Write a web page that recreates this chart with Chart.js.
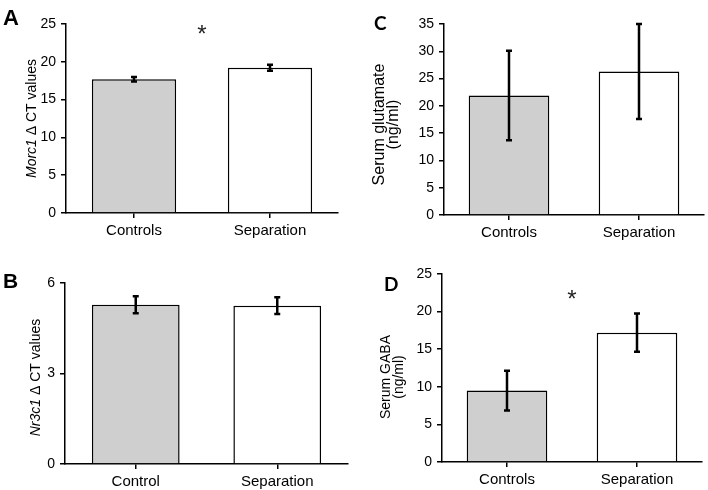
<!DOCTYPE html>
<html>
<head>
<meta charset="utf-8">
<script src="https://cdn.jsdelivr.net/npm/chart.js@4/dist/chart.umd.min.js"></script>
<style>
  body { margin: 0; background: #fff; width: 708px; height: 490px; position: relative; overflow: hidden; }
  canvas { position: absolute; }
  .lbl { position: absolute; line-height: 1; font-weight: bold; color: #000; }
</style>
</head>
<body>
<canvas id="chartA" width="354" height="245" style="left:0;top:0"></canvas>
<canvas id="chartC" width="354" height="245" style="left:354px;top:0"></canvas>
<canvas id="chartB" width="354" height="245" style="left:0;top:245px"></canvas>
<canvas id="chartD" width="354" height="245" style="left:354px;top:245px"></canvas>
<div class="lbl" style="left:3px;top:5px;font:bold 22px 'Liberation Sans'">A</div>
<div class="lbl" style="left:3px;top:269px;font:bold 21px 'Liberation Sans'">B</div>
<div class="lbl" style="left:374px;top:11px;font:bold 19px Lato">C</div>
<div class="lbl" style="left:384px;top:272px;font:bold 19px Lato">D</div>
<script>
// Datos de cada panel
const categoriesA = ["Controls", "Separation"];
const morc1Means = [17.7, 19.2];
const morc1Errors = [0.3, 0.4];
const ticksA = [0, 5, 10, 15, 20, 25];

const categoriesB = ["Control", "Separation"];
const nr3c1Means = [5.28, 5.25];
const nr3c1Errors = [0.28, 0.28];
const ticksB = [0, 3, 6];

const categoriesC = ["Controls", "Separation"];
const glutamateMeans = [21.9, 26.3];
const glutamateErrors = [8.2, 8.7];
const ticksC = [0, 5, 10, 15, 20, 25, 30, 35];

const categoriesD = ["Controls", "Separation"];
const gabaMeans = [9.5, 17.2];
const gabaErrors = [2.65, 2.55];
const ticksD = [0, 5, 10, 15, 20, 25];

const FONT = "'Liberation Sans', Arial, sans-serif";

// Barras de error
const errorBarsPlugin = {
  id: "errorBars",
  afterDatasetsDraw(chart, args, opts) {
    const { ctx } = chart;
    const y = chart.scales.y;
    const meta = chart.getDatasetMeta(0);
    const values = chart.data.datasets[0].data;
    ctx.save();
    ctx.strokeStyle = "#000";
    ctx.lineWidth = 2.5;
    meta.data.forEach((bar, i) => {
      const top = y.getPixelForValue(values[i] + opts.errors[i]);
      const bottom = y.getPixelForValue(values[i] - opts.errors[i]);
      ctx.beginPath();
      ctx.moveTo(bar.x, top); ctx.lineTo(bar.x, bottom);
      ctx.moveTo(bar.x - 3, top); ctx.lineTo(bar.x + 3, top);
      ctx.moveTo(bar.x - 3, bottom); ctx.lineTo(bar.x + 3, bottom);
      ctx.stroke();
    });
    ctx.restore();
  }
};

// Asterisco de significancia
const starPlugin = {
  id: "star",
  afterDatasetsDraw(chart, args, opts) {
    if (opts.value == null) return;
    const { ctx } = chart;
    const meta = chart.getDatasetMeta(0);
    const x = (meta.data[0].x + meta.data[1].x) / 2;
    const yc = chart.scales.y.getPixelForValue(opts.value);
    ctx.save();
    ctx.fillStyle = "#222";
    ctx.font = "24px " + FONT;
    ctx.textAlign = "center";
    ctx.textBaseline = "alphabetic";
    ctx.fillText("*", x, yc + 0.58 * 24);
    ctx.restore();
  }
};

// Título del eje Y con partes en cursiva
const yTitlePlugin = {
  id: "yTitle",
  afterDraw(chart, args, opts) {
    const { ctx, chartArea } = chart;
    const cy = (chartArea.top + chartArea.bottom) / 2 + (opts.dy || 0);
    const size = opts.size || 14;
    ctx.save();
    ctx.fillStyle = "#000";
    ctx.textBaseline = "middle";
    ctx.textAlign = "left";
    opts.lines.forEach((segments, li) => {
      let total = 0;
      segments.forEach(s => {
        ctx.font = (s.italic ? "italic " : "") + size + "px " + FONT;
        total += ctx.measureText(s.text).width;
      });
      ctx.save();
      ctx.translate(opts.x[li], cy);
      ctx.rotate(-Math.PI / 2);
      let pos = -total / 2;
      segments.forEach(s => {
        ctx.font = (s.italic ? "italic " : "") + size + "px " + FONT;
        ctx.fillText(s.text, pos, 0);
        pos += ctx.measureText(s.text).width;
      });
      ctx.restore();
    });
    ctx.restore();
  }
};

const makeChart = (id, cfg) => new Chart(document.getElementById(id), {
  type: "bar",
  data: {
    labels: cfg.labels,
    datasets: [{
      data: cfg.values,
      backgroundColor: ["#cfcfcf", "#ffffff"],
      borderColor: "#000",
      borderWidth: 1.5,
      barPercentage: 0.62,
      categoryPercentage: 1
    }]
  },
  options: {
    responsive: false,
    animation: false,
    devicePixelRatio: 1,
    layout: { padding: { top: cfg.top, right: cfg.right, left: 0, bottom: 0 } },
    plugins: {
      legend: { display: false },
      tooltip: { enabled: false },
      errorBars: { errors: cfg.errors },
      star: { value: cfg.star },
      yTitle: { lines: cfg.title, x: cfg.titleX, dy: cfg.titleDy || 0, size: cfg.titleSize || 14 }
    },
    scales: {
      x: {
        offset: true,
        grid: { offset: false, drawOnChartArea: false, color: "#000", lineWidth: 1.5, tickLength: 5 },
        border: { color: "#000", width: 1.5 },
        ticks: { color: "#000", font: { family: FONT, size: 15 }, padding: 4 },
        afterFit: (scale) => { scale.height = cfg.bottom; }
      },
      y: {
        min: 0,
        max: cfg.ticks[cfg.ticks.length - 1],
        afterBuildTicks: (scale) => { scale.ticks = cfg.ticks.map(v => ({ value: v })); },
        grid: { drawOnChartArea: false, color: "#000", lineWidth: 1.5, tickLength: 5 },
        border: { color: "#000", width: 1.5 },
        ticks: { color: "#000", font: { family: FONT, size: 14 }, padding: 5 },
        afterFit: (scale) => { scale.width = cfg.left; }
      }
    }
  },
  plugins: [errorBarsPlugin, starPlugin, yTitlePlugin]
});

makeChart("chartA", {
  labels: categoriesA, values: morc1Means, errors: morc1Errors, ticks: ticksA,
  top: 24, right: 16, left: 66, bottom: 32, star: 24.5,
  title: [[{ text: "Morc1", italic: true }, { text: " \u0394 CT values" }]], titleX: [32]
});
makeChart("chartC", {
  labels: categoriesC, values: glutamateMeans, errors: glutamateErrors, ticks: ticksC,
  top: 24, right: 4, left: 90, bottom: 30, star: null, titleSize: 16,
  title: [[{ text: "Serum glutamate" }], [{ text: "(ng/ml)" }]], titleX: [26, 40], titleDy: 5
});
makeChart("chartB", {
  labels: categoriesB, values: nr3c1Means, errors: nr3c1Errors, ticks: ticksB,
  top: 38, right: 6, left: 65, bottom: 26, star: null,
  title: [[{ text: "Nr3c1", italic: true }, { text: " \u0394 CT values" }]], titleX: [36], titleDy: 4
});
makeChart("chartD", {
  labels: categoriesD, values: gabaMeans, errors: gabaErrors, ticks: ticksD,
  top: 29, right: 6, left: 88, bottom: 28, star: 22.5,
  title: [[{ text: "Serum GABA" }], [{ text: "(ng/ml)" }]], titleX: [32, 45], titleDy: 9
});
</script>
</body>
</html>
